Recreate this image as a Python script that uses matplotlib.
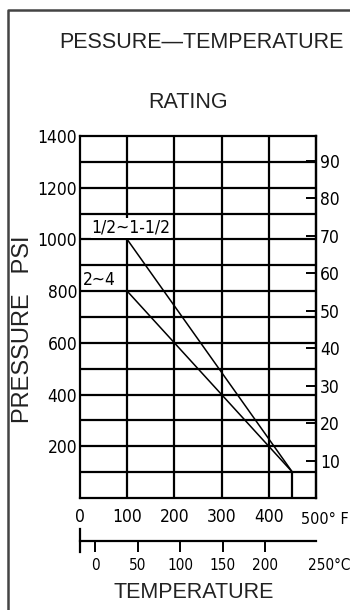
import matplotlib
matplotlib.use("Agg")
import matplotlib.pyplot as plt
from matplotlib.lines import Line2D
from matplotlib import font_manager as fm

# ---- data ----
temp_f = [100, 450]                 # degF
rating_small = [1000, 100]          # psi, 1/2~1-1/2
rating_large = [800, 100]           # psi, 2~4
label_small = "1/2~1-1/2"
label_large = "2~4"
x_ticks_f = [0, 100, 200, 300, 400, 500]
x_tick_labels_f = ["0", "100", "200", "300", "400", "500° F"]
y_ticks_psi = [200, 400, 600, 800, 1000, 1200, 1400]
y_ticks_bar = [10, 20, 30, 40, 50, 60, 70, 80, 90]
c_ticks = [0, 50, 100, 150, 200]
c_last_label = 250
grid_x = [100, 200, 300, 400]
grid_y = [100, 200, 300, 400, 500, 600, 700, 800, 900, 1000, 1100, 1200, 1300]
PSI_PER_BAR = 14.5

NARROW = fm.FontProperties(family=["DejaVu Sans"], stretch="condensed", size=12.5)
NARROW_500 = fm.FontProperties(family=["DejaVu Sans"], stretch="condensed", size=11.5)
NARROW_S = fm.FontProperties(family=["DejaVu Sans"], stretch="condensed", size=11)
PLAIN = ["Liberation Sans", "DejaVu Sans"]

W, H = 350, 610
fig = plt.figure(figsize=(W / 100, H / 100), dpi=100)
ax = fig.add_axes([80 / W, 1 - 498 / H, 236 / W, 362 / H])
ax.set_xlim(0, 500)
ax.set_ylim(0, 1400)

lw_grid = 1.6
for x in grid_x:
    ax.axvline(x, color="black", lw=lw_grid, zorder=1)
for y in grid_y:
    ax.axhline(y, color="black", lw=lw_grid, zorder=1)
for s in ax.spines.values():
    s.set_linewidth(lw_grid)

# rating lines
ax.plot(temp_f, rating_small, color="black", lw=1.1, zorder=2)
ax.plot(temp_f, rating_large, color="black", lw=1.1, zorder=2)
ax.vlines(temp_f[-1], 0, rating_small[-1], color="black", lw=lw_grid, zorder=2)

bbox = dict(facecolor="white", edgecolor="none", pad=0.5)
ax.text(108, rating_small[0] + 10, label_small, ha="center", va="bottom",
        fontproperties=NARROW, bbox=bbox, zorder=3)
ax.text(6, rating_large[0] + 10, label_large, ha="left", va="bottom",
        fontproperties=NARROW, bbox=bbox, zorder=3)

# left axis
ax.set_yticks(y_ticks_psi)
ax.set_yticklabels([str(v) for v in y_ticks_psi], fontproperties=NARROW)
ax.tick_params(axis="y", length=0, pad=2)

# bottom axis (F)
ax.set_xticks(x_ticks_f)
ax.set_xticklabels(x_tick_labels_f[:-1] + [""], fontproperties=NARROW)
ax.tick_params(axis="x", length=0, pad=7)
ax.annotate(x_tick_labels_f[-1], xy=(x_ticks_f[-1], 0), xycoords=("data", "axes fraction"),
            xytext=(-11, -15.5), textcoords="offset points", ha="left", va="center",
            fontproperties=NARROW_500)

# right axis (bar)
sec_y = ax.secondary_yaxis("right", functions=(lambda p: p / PSI_PER_BAR, lambda b: b * PSI_PER_BAR))
sec_y.set_yticks(y_ticks_bar)
sec_y.set_yticklabels([str(v) for v in y_ticks_bar], fontproperties=NARROW)
sec_y.tick_params(direction="in", length=7, width=1.4, pad=3)
sec_y.spines["right"].set_linewidth(lw_grid)

# Celsius axis
loc = -0.12
sec_x = ax.secondary_xaxis(loc, functions=(lambda f: (f - 32) * 5 / 9, lambda c: c * 9 / 5 + 32))
sec_x.set_xticks(c_ticks)
sec_x.set_xticklabels([str(v) for v in c_ticks], fontproperties=NARROW_S)
sec_x.tick_params(direction="out", length=8, width=1.4, pad=4)
sec_x.spines["bottom"].set_linewidth(1.6)
ax.plot([0, 0], [loc + 0.033, loc - 0.03], transform=ax.transAxes, color="black",
        lw=1.6, clip_on=False)
ax.annotate(f"{c_last_label}°C", xy=(c_last_label * 9 / 5 + 32, loc), xycoords=("data", "axes fraction"),
            xytext=(0, -17), textcoords="offset points", ha="left", va="center",
            fontproperties=NARROW_S)

# labels and titles
fig.text(201 / W, 1 - 43 / H, "PESSURE—TEMPERATURE", ha="center", va="center",
         family=PLAIN, fontsize=15.5, color="#222222")
fig.text(188 / W, 1 - 102 / H, "RATING", ha="center", va="center",
         family=PLAIN, fontsize=15.5, color="#222222")
fig.text(194 / W, 1 - 593 / H, "TEMPERATURE", ha="center", va="center",
         family=PLAIN, fontsize=15.5, color="#222222")
fig.text(23 / W, 1 - 329 / H, "PRESSURE   PSI", ha="center", va="center", rotation=90,
         family=PLAIN, fontsize=17, color="#222222")

# border frame
fig.add_artist(Line2D([7.5 / W, 7.5 / W, 1.0], [0, 1 - 10 / H, 1 - 10 / H],
                      transform=fig.transFigure, color="#444444", lw=1.8))

fig.savefig("out.png", dpi=100)
